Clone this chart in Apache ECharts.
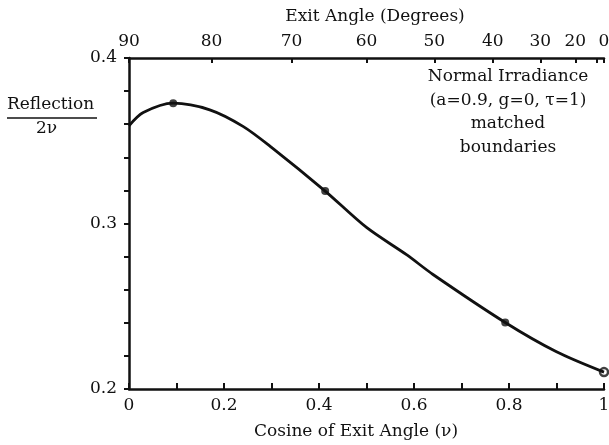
<!DOCTYPE html>
<html>
<head>
<meta charset="utf-8">
<script src="https://cdn.jsdelivr.net/npm/echarts@6/dist/echarts.min.js"></script>
<style>html,body{margin:0;padding:0;background:#fff}#c{width:609px;height:445px}</style>
</head>
<body>
<div id="c"></div>
<script>
// Data
var curveX = [0, 0.03, 0.093, 0.17, 0.24, 0.30, 0.413, 0.50, 0.585, 0.64, 0.792, 0.90, 1.0];
var curveY = [0.359, 0.367, 0.3727, 0.3687, 0.3587, 0.346, 0.3196, 0.2976, 0.281, 0.2692, 0.2402, 0.2225, 0.2102];
var markedX = [0.093, 0.413, 0.792, 1.0];
var markedY = [0.3727, 0.3196, 0.2402, 0.2102];
var bottomTicks = [0, 0.1, 0.2, 0.3, 0.4, 0.5, 0.6, 0.7, 0.8, 0.9, 1];
var bottomLabels = [0, 0.2, 0.4, 0.6, 0.8, 1];
var yTicks = [0.2, 0.22, 0.24, 0.26, 0.28, 0.3, 0.32, 0.34, 0.36, 0.38, 0.4];
var yLabels = [0.2, 0.3, 0.4];
var angleTicks = [90, 80, 70, 60, 50, 40, 30, 20, 10, 0];
var angleLabels = [90, 80, 70, 60, 50, 40, 30, 20, 0];
var annotationLines = ['Normal Irradiance', '(a=0.9, g=0, \u03c4=1)', 'matched', 'boundaries'];
var topTitle = 'Exit Angle (Degrees)';
var bottomTitle = 'Cosine of Exit Angle (\u03bd)';

var FONT = 'DejaVu Serif';
var FS = 17;
var FSTR = FS + 'px "' + FONT + '"';
function cosd(a) { return Math.cos(a * Math.PI / 180); }
var angleTickVals = angleTicks.map(function (a) { return a === 90 ? 0 : cosd(a); });
var angleLabelVals = angleLabels.map(function (a) { return a === 90 ? 0 : cosd(a); });

var chart = echarts.init(document.getElementById('c'), null, {renderer: 'canvas'});
var axisLine = {show: true, lineStyle: {color: '#111', width: 2.5}};

var graphic = [
  {type: 'text', left: 7, top: 96, style: {text: 'Reflection', font: FSTR, fill: '#111'}},
  {type: 'line', shape: {x1: 7, y1: 118, x2: 97, y2: 118}, style: {stroke: '#111', lineWidth: 1.5}},
  {type: 'text', left: 36, top: 120, style: {text: '2\u03bd', font: FSTR, fill: '#111'}},
  {type: 'text', x: 375, y: 17, style: {text: topTitle, font: FSTR, fill: '#111', textAlign: 'center', textVerticalAlign: 'middle'}},
  {type: 'text', x: 356, y: 432, style: {text: bottomTitle, font: FSTR, fill: '#111', textAlign: 'center', textVerticalAlign: 'middle'}}
];
annotationLines.forEach(function (t, i) {
  graphic.push({type: 'text', x: 508, y: 77 + i * 23.5,
    style: {text: t, font: FSTR, fill: '#111', textAlign: 'center', textVerticalAlign: 'middle'}});
});

chart.setOption({
  animation: false,
  backgroundColor: '#fff',
  grid: {left: 129, right: 5, top: 58, bottom: 56, containLabel: false, outerBoundsMode: 'none'},
  xAxis: [{
    type: 'value', position: 'bottom', min: 0, max: 1,
    axisLine: axisLine,
    axisTick: {show: true, inside: true, length: 6, customValues: bottomTicks, lineStyle: {color: '#111', width: 2}},
    axisLabel: {customValues: bottomLabels, margin: 8, fontFamily: FONT, fontSize: FS, color: '#111',
      formatter: function (v) { return String(Math.round(v * 10) / 10); }},
    splitLine: {show: false}
  }, {
    type: 'value', position: 'top', min: 0, max: 1,
    axisLine: axisLine,
    axisTick: {show: true, inside: true, length: 5, customValues: angleTickVals, lineStyle: {color: '#111', width: 2}},
    axisLabel: {customValues: angleLabelVals, margin: 8, fontFamily: FONT, fontSize: FS, color: '#111',
      formatter: function (v) { return String(Math.round(Math.acos(Math.min(1, v)) * 180 / Math.PI)); }},
    splitLine: {show: false}
  }],
  yAxis: {
    type: 'value', min: 0.2, max: 0.4, offset: 3,
    axisLine: axisLine,
    axisTick: {show: true, inside: false, length: 5, customValues: yTicks, lineStyle: {color: '#111', width: 2}},
    axisLabel: {customValues: yLabels, margin: 9, fontFamily: FONT, fontSize: FS, color: '#111',
      formatter: function (v) { return v.toFixed(1); }},
    splitLine: {show: false}
  },
  graphic: graphic,
  series: [{
    type: 'line', xAxisIndex: 0, smooth: 0.3, showSymbol: false,
    lineStyle: {color: '#111', width: 2.8},
    data: curveX.map(function (x, i) { return [x, curveY[i]]; })
  }, {
    type: 'scatter', xAxisIndex: 0, symbolSize: 8,
    itemStyle: {color: '#111'},
    data: markedX.map(function (x, i) {
      var d = {value: [x, markedY[i]]};
      if (x === 1) d.itemStyle = {color: '#fff', borderColor: '#111', borderWidth: 2.5};
      return d;
    })
  }]
});
</script>
</body>
</html>
